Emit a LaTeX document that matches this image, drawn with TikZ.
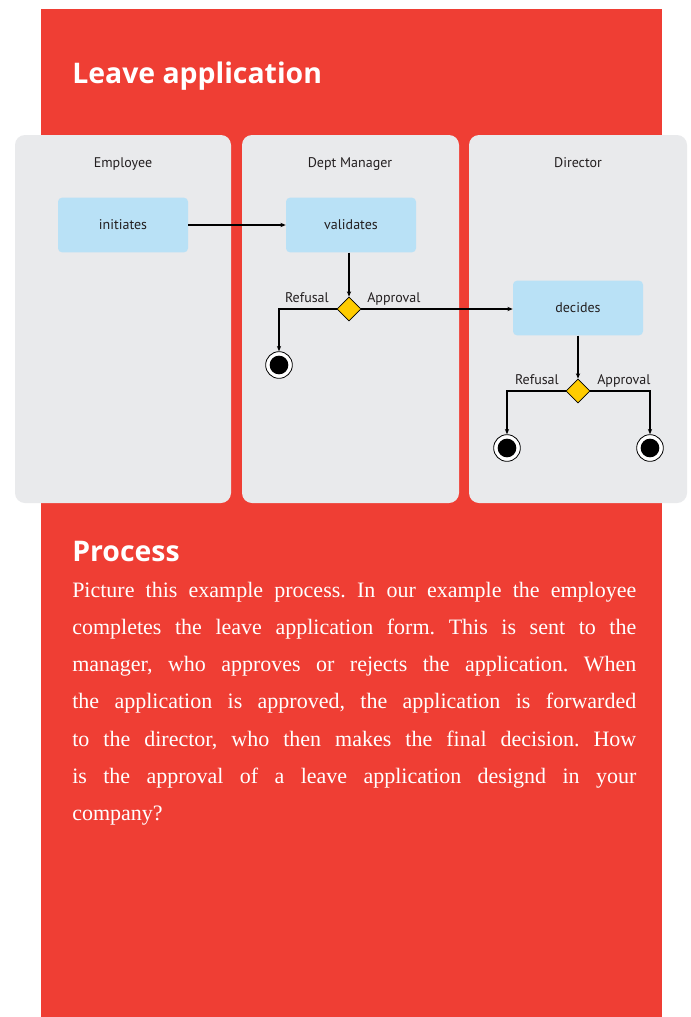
\documentclass[tikz,border=0pt]{standalone}
\usepackage{fontspec}
\setmainfont{Liberation Serif}
\newfontfamily\uisans{PT Sans}
\newfontfamily\headsans{Open Sans}
\usetikzlibrary{shapes.geometric,arrows.meta}
\definecolor{panelred}{RGB}{239,62,52}
\definecolor{lanegray}{RGB}{233,234,236}
\definecolor{actblue}{RGB}{185,225,246}
\definecolor{gateyellow}{RGB}{255,204,0}
\definecolor{ink}{RGB}{35,31,32}
\begin{document}
\begin{tikzpicture}[x=0.75pt,y=-0.75pt,
  heading/.style={anchor=base west, inner sep=0, text=white, font=\headsans\bfseries\fontsize{21.3}{25}\selectfont},
  bodyline/.style={anchor=base west, inner sep=0, text=white, font=\frenchspacing\fontsize{16.5}{20}\selectfont},
  lane/.style={fill=lanegray, rounded corners=7.5pt},
  lanetitle/.style={anchor=base, inner sep=0, text=ink, font=\uisans\fontsize{10.5}{12}\selectfont},
  act/.style={rectangle, rounded corners=3pt, fill=actblue, minimum width=97.5pt, minimum height=41pt, inner sep=0, text=ink, font=\uisans\fontsize{10.5}{12}\selectfont},
  gate/.style={diamond, draw=black, line width=0.6pt, fill=gateyellow, minimum width=18pt, minimum height=18pt, inner sep=0},
  final/.style={circle, draw=black, line width=0.6pt, fill=white, minimum size=20pt, inner sep=0},
  finaldot/.style={circle, fill=black, minimum size=14pt, inner sep=0},
  lbl/.style={inner sep=0, text=ink, font=\uisans\fontsize{10.5}{12}\selectfont},
  arr/.style={draw=black, line width=0.9pt, -{Stealth[length=4pt,width=3.2pt]}}
]
\useasboundingbox (0,0) rectangle (691,1017);
\fill[white] (0,0) rectangle (691,1017);
\fill[panelred] (41,9) rectangle (662,1017);

\node[heading] (title) at (72,83) {Leave application};

% swimlanes
\fill[lane] (15,135) rectangle (231,503);
\fill[lane] (242,135) rectangle (459,503);
\fill[lane] (469,135) rectangle (687,503);
\node[lanetitle] (h1) at (123,167) {Employee};
\node[lanetitle] (h2) at (350,167) {Dept Manager};
\node[lanetitle] (h3) at (578,167) {Director};

% activities
\node[act] (ini) at (123,225) {initiates};
\node[act] (val) at (351,225) {validates};
\node[act] (dec) at (578,308) {decides};

% gateways
\node[gate] (d1) at (349,309) {};
\node[gate] (d2) at (578,391) {};

% final nodes
\node[final] (f1) at (279,365) {};
\node[finaldot] (f1i) at (f1.center) {};
\node[final] (f2) at (507,448) {};
\node[finaldot] (f2i) at (f2.center) {};
\node[final] (f3) at (650,448) {};
\node[finaldot] (f3i) at (f3.center) {};

% connectors
\draw[arr] (ini) -- (val);
\draw[arr] (d1.north |- val.south) -- (d1.north);
\draw[arr] (d1.west) -| (f1.north);
\draw[arr] (d1.east) -- (dec.west |- d1.east);
\draw[arr] (dec) -- (d2);
\draw[arr] (d2.west) -| (f2.north);
\draw[arr] (d2.east) -| (f3.north);

% labels
\node[lbl, anchor=base east] (r1) at (329,302) {Refusal};
\node[lbl, anchor=base west] (a1) at (367,302) {Approval};
\node[lbl, anchor=base east] (r2) at (559,384) {Refusal};
\node[lbl, anchor=base west] (a2) at (597,384) {Approval};

% process text
\node[heading] (ptitle) at (72,561) {Process};
\node[bodyline] (l1) at (72,597) {\makebox[423pt][s]{Picture this example process. In our example the employee}};
\node[bodyline] (l2) at (72,634.3) {\makebox[423pt][s]{completes the leave application form. This is sent to the}};
\node[bodyline] (l3) at (72,671.6) {\makebox[423pt][s]{manager, who approves or rejects the application. When}};
\node[bodyline] (l4) at (72,708.9) {\makebox[423pt][s]{the application is approved, the application is forwarded}};
\node[bodyline] (l5) at (72,746.2) {\makebox[423pt][s]{to the director, who then makes the final decision. How}};
\node[bodyline] (l6) at (72,783.5) {\makebox[423pt][s]{is the approval of a leave application designd in your}};
\node[bodyline] (l7) at (72,820.8) {company?};
\end{tikzpicture}
\end{document}
